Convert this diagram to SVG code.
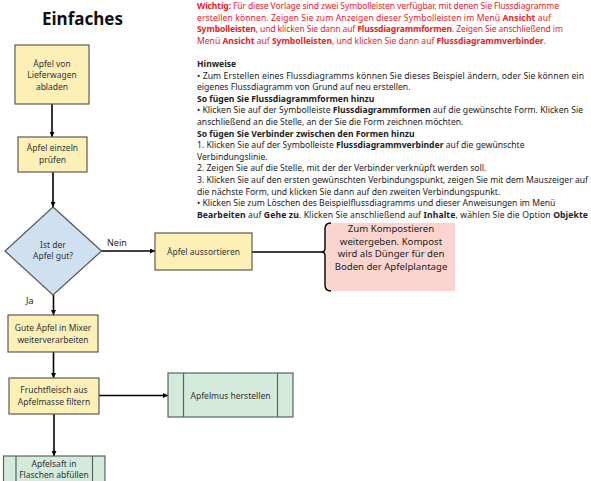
<svg xmlns="http://www.w3.org/2000/svg" width="591" height="481" viewBox="0 0 591 481">
<defs>
<marker id="ah" viewBox="0 0 10 10" refX="10" refY="5" markerWidth="5" markerHeight="5" orient="auto" markerUnits="userSpaceOnUse">
<path d="M0,0 L10,5 L0,10 z" fill="#000"/>
</marker>
<style>
text{font-family:"Noto Sans","Open Sans","DejaVu Sans",sans-serif;}
.t{font-size:8.6px;fill:#222;}
.r{font-size:8.6px;fill:#e8211f;}
.b{font-weight:bold;}
.n{font-size:8.5px;fill:#333;text-anchor:middle;}
.yel{fill:#fcf0b6;stroke:#5c5c50;stroke-width:1.2;}
.blu{fill:#cfe0f0;stroke:#555;stroke-width:1.2;}
.grn{fill:#d4eadc;stroke:#56655a;stroke-width:1.2;}
.c{fill:none;stroke:#000;stroke-width:1.6;}
.lbl{font-size:9px;fill:#222;}
</style>
</defs>
<rect width="591" height="481" fill="#fff"/>
<text x="42" y="25" style="font-size:17px;font-weight:bold;fill:#111;">Einfaches</text>
<g id="notes">
<text class="r" x="197" y="9" textLength="362" lengthAdjust="spacing"><tspan class="b">Wichtig:</tspan> Für diese Vorlage sind zwei Symbolleisten verfügbar, mit denen Sie Flussdiagramme</text>
<text class="r" x="197" y="20.6" textLength="354" lengthAdjust="spacing">erstellen können. Zeigen Sie zum Anzeigen dieser Symbolleisten im Menü <tspan class="b">Ansicht</tspan> auf</text>
<text class="r" x="197" y="32.2" textLength="366" lengthAdjust="spacing"><tspan class="b">Symbolleisten</tspan>, und klicken Sie dann auf <tspan class="b">Flussdiagrammformen</tspan>. Zeigen Sie anschließend im</text>
<text class="r" x="197" y="43.8" textLength="349" lengthAdjust="spacing">Menü <tspan class="b">Ansicht</tspan> auf <tspan class="b">Symbolleisten</tspan>, und klicken Sie dann auf <tspan class="b">Flussdiagrammverbinder</tspan>.</text>
<text class="t b" x="197" y="67">Hinweise</text>
<text class="t" x="197" y="78.6" textLength="387" lengthAdjust="spacing">• Zum Erstellen eines Flussdiagramms können Sie dieses Beispiel ändern, oder Sie können ein</text>
<text class="t" x="197" y="90.2">eigenes Flussdiagramm von Grund auf neu erstellen.</text>
<text class="t b" x="197" y="101.8">So fügen Sie Flussdiagrammformen hinzu</text>
<text class="t" x="197" y="113.4" textLength="386" lengthAdjust="spacing">• Klicken Sie auf der Symbolleiste <tspan class="b">Flussdiagrammformen</tspan> auf die gewünschte Form. Klicken Sie</text>
<text class="t" x="197" y="125">anschließend an die Stelle, an der Sie die Form zeichnen möchten.</text>
<text class="t b" x="197" y="136.6">So fügen Sie Verbinder zwischen den Formen hinzu</text>
<text class="t" x="197" y="148.2">1. Klicken Sie auf der Symbolleiste <tspan class="b">Flussdiagrammverbinder</tspan> auf die gewünschte</text>
<text class="t" x="197" y="159.8">Verbindungslinie.</text>
<text class="t" x="197" y="171.4">2. Zeigen Sie auf die Stelle, mit der der Verbinder verknüpft werden soll.</text>
<text class="t" x="197" y="183" textLength="391" lengthAdjust="spacing">3. Klicken Sie auf den ersten gewünschten Verbindungspunkt, zeigen Sie mit dem Mauszeiger auf</text>
<text class="t" x="197" y="194.6">die nächste Form, und klicken Sie dann auf den zweiten Verbindungspunkt.</text>
<text class="t" x="197" y="206.2">• Klicken Sie zum Löschen des Beispielflussdiagramms und dieser Anweisungen im Menü</text>
<text class="t" x="197" y="217.8" textLength="391" lengthAdjust="spacing"><tspan class="b">Bearbeiten</tspan> auf <tspan class="b">Gehe zu</tspan>. Klicken Sie anschließend auf <tspan class="b">Inhalte</tspan>, wählen Sie die Option <tspan class="b">Objekte</tspan></text>
</g>
<g id="connectors">
<line class="c" x1="52" y1="104" x2="52" y2="137" marker-end="url(#ah)"/>
<line class="c" x1="53" y1="172" x2="53" y2="207" marker-end="url(#ah)"/>
<line class="c" x1="101.5" y1="251" x2="155" y2="251" marker-end="url(#ah)"/>
<line class="c" x1="252" y1="252" x2="323" y2="252"/>
<line class="c" x1="53.5" y1="295" x2="53.5" y2="315" marker-end="url(#ah)"/>
<line class="c" x1="53.5" y1="352" x2="53.5" y2="378" marker-end="url(#ah)"/>
<line class="c" x1="54" y1="414" x2="54" y2="456" marker-end="url(#ah)"/>
<line class="c" x1="99" y1="395.5" x2="168" y2="395.5" marker-end="url(#ah)"/>
<text class="lbl" x="107" y="246">Nein</text>
<text class="lbl" x="26" y="304">Ja</text>
</g>
<g id="n1">
<rect class="yel" x="15" y="45" width="74" height="59"/>
<text class="n" x="52" y="66.8">Äpfel von</text>
<text class="n" x="52" y="78.3">Lieferwagen</text>
<text class="n" x="52" y="89.6">abladen</text>
</g>
<g id="n2">
<rect class="yel" x="18" y="137" width="69" height="35"/>
<text class="n" x="52.5" y="151">Äpfel einzeln</text>
<text class="n" x="52.5" y="162.5">prüfen</text>
</g>
<g id="d1">
<polygon class="blu" points="53,207 101.5,251 53,295 5,251"/>
<text class="n" x="53" y="248.3">Ist der</text>
<text class="n" x="53" y="259.3">Apfel gut?</text>
</g>
<g id="n3">
<rect class="yel" x="155" y="233" width="97" height="37"/>
<text class="n" x="203.5" y="254.5">Äpfel aussortieren</text>
</g>
<g id="note">
<rect x="325" y="223" width="130" height="68" fill="#fad4ce"/>
<path d="M331,223 Q325,223 325,229 L325,248 Q325,252 322,252 Q325,252 325,256 L325,285 Q325,291 331,291" fill="none" stroke="#000" stroke-width="1.4"/>
<g style="font-size:9.6px;fill:#222;text-anchor:middle;">
<text x="391" y="232.3">Zum Kompostieren</text>
<text x="391" y="244.8">weitergeben. Kompost</text>
<text x="391" y="257.3">wird als Dünger für den</text>
<text x="391" y="269.8">Boden der Apfelplantage</text>
</g>
</g>
<g id="n4">
<rect class="yel" x="8" y="315" width="90" height="37"/>
<text class="n" x="53" y="330.8">Gute Äpfel in Mixer</text>
<text class="n" x="53" y="342.6">weiterverarbeiten</text>
</g>
<g id="n5">
<rect class="yel" x="9" y="378" width="90" height="36"/>
<text class="n" x="54" y="393.2">Fruchtfleisch aus</text>
<text class="n" x="54" y="404.5">Apfelmasse filtern</text>
</g>
<g id="n6">
<rect class="grn" x="168" y="373" width="125" height="44"/>
<line class="grn" x1="183.5" y1="373" x2="183.5" y2="417"/>
<line class="grn" x1="277.5" y1="373" x2="277.5" y2="417"/>
<text class="n" x="230.5" y="398.8">Apfelmus herstellen</text>
</g>
<g id="n7">
<rect class="grn" x="3.5" y="456" width="101.5" height="40"/>
<line class="grn" x1="16" y1="456" x2="16" y2="496"/>
<line class="grn" x1="92.5" y1="456" x2="92.5" y2="496"/>
<text class="n" x="54" y="466.8">Apfelsaft in</text>
<text class="n" x="54" y="478.3">Flaschen abfüllen</text>
</g>
</svg>
